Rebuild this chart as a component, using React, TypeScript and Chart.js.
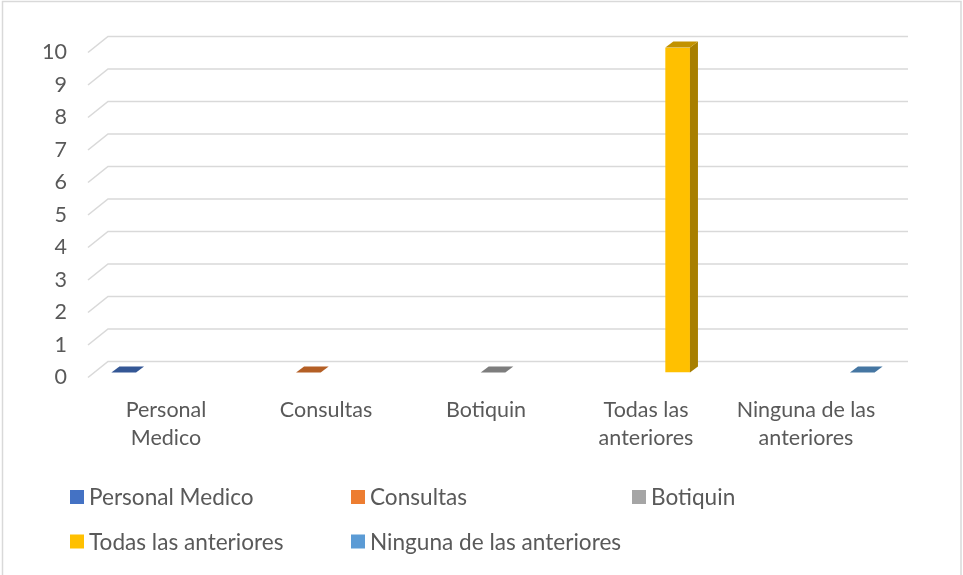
import { useEffect, useRef } from "react";
import { Chart, registerables } from "chart.js";

Chart.register(...registerables);

const seriesNames = [
  "Personal Medico",
  "Consultas",
  "Botiquin",
  "Todas las anteriores",
  "Ninguna de las anteriores",
];
const categoryLabels: (string | string[])[] = [
  ["Personal", "Medico"],
  "Consultas",
  "Botiquin",
  ["Todas las", "anteriores"],
  ["Ninguna de las", "anteriores"],
];
const seriesValues = [0, 0, 0, 10, 0];
const seriesColors = ["#4472C4", "#ED7D31", "#A5A5A5", "#FFC000", "#5B9BD5"];
const yMin = 0;
const yMax = 10;
const yStep = 1;

const FONT = "Lato, 'Open Sans', sans-serif";
const LEGEND_FONT_SIZE = 22.6;
const AXIS_FONT_SIZE = 21.5;
const TEXT_COLOR = "#595959";
const GRID_COLOR = "#d9d9d9";
// pseudo-3D geometry
const WALL_DX = 22;
const WALL_DY = 16;
const BAR_DX = 7;
const BAR_DY = 5;
const DEPTH_DX = 8;
const DEPTH_DY = 6;

function shade(hex: string, f: number): string {
  const n = parseInt(hex.slice(1), 16);
  const r = Math.round(((n >> 16) & 255) * f);
  const g = Math.round(((n >> 8) & 255) * f);
  const b = Math.round((n & 255) * f);
  return `rgb(${r},${g},${b})`;
}

const framePlugin = {
  id: "frame",
  beforeDraw(chart: any) {
    const ctx = chart.ctx;
    ctx.save();
    ctx.fillStyle = "#ffffff";
    ctx.fillRect(0, 0, chart.width, chart.height);
    ctx.strokeStyle = GRID_COLOR;
    ctx.lineWidth = 1.5;
    ctx.strokeRect(2.5, 1.5, chart.width - 4.5, chart.height + 10);
    ctx.restore();
  },
};

const depthPlugin = {
  id: "depth3d",
  beforeDatasetsDraw(chart: any) {
    const ctx = chart.ctx;
    const y = chart.scales.y;
    const { left, right } = chart.chartArea;
    ctx.save();
    ctx.strokeStyle = GRID_COLOR;
    ctx.lineWidth = 1.6;
    for (const t of y.ticks) {
      const py = y.getPixelForValue(t.value);
      ctx.beginPath();
      ctx.moveTo(left + 2, py);
      ctx.lineTo(left + WALL_DX, py - WALL_DY);
      ctx.lineTo(right + WALL_DX, py - WALL_DY);
      ctx.stroke();
    }
    ctx.restore();
    ctx.save();
    ctx.translate(BAR_DX, -BAR_DY);
  },
  afterDatasetsDraw(chart: any) {
    const ctx = chart.ctx;
    chart.data.datasets.forEach((ds: any, di: number) => {
      const meta = chart.getDatasetMeta(di);
      const color = seriesColors[di];
      meta.data.forEach((el: any, i: number) => {
        if (ds.data[i] == null) return;
        const { x, y, base, width } = el.getProps(["x", "y", "base", "width"], true);
        const l = x - width / 2;
        const r = x + width / 2;
        if (base - y > 0.5) {
          ctx.fillStyle = shade(color, 0.66);
          ctx.beginPath();
          ctx.moveTo(r, y);
          ctx.lineTo(r + DEPTH_DX, y - DEPTH_DY);
          ctx.lineTo(r + DEPTH_DX, base - DEPTH_DY);
          ctx.lineTo(r, base);
          ctx.closePath();
          ctx.fill();
        }
        ctx.fillStyle = shade(color, 0.76);
        ctx.beginPath();
        ctx.moveTo(l, y);
        ctx.lineTo(l + DEPTH_DX, y - DEPTH_DY);
        ctx.lineTo(r + DEPTH_DX, y - DEPTH_DY);
        ctx.lineTo(r, y);
        ctx.closePath();
        ctx.fill();
      });
    });
    ctx.restore();
  },
};

const legendPlugin = {
  id: "gridLegend",
  afterDraw(chart: any) {
    const ctx = chart.ctx;
    ctx.save();
    ctx.font = `${LEGEND_FONT_SIZE}px ${FONT}`;
    ctx.textBaseline = "middle";
    ctx.textAlign = "left";
    const cols = 3;
    const colW = 281;
    const x0 = 70;
    const rowsY = [497, 541.5];
    chart.data.datasets.forEach((ds: any, i: number) => {
      const c = i % cols;
      const r = Math.floor(i / cols);
      const bx = x0 + c * colW;
      const cy = rowsY[r];
      ctx.fillStyle = seriesColors[i];
      ctx.fillRect(bx, cy - 7, 14, 14);
      ctx.fillStyle = TEXT_COLOR;
      ctx.fillText(ds.label, bx + 19, cy + 1);
    });
    ctx.restore();
  },
};

export default function App() {
  const ref = useRef<HTMLCanvasElement | null>(null);

  useEffect(() => {
    document.body.style.margin = "0";
    const canvas = ref.current;
    if (!canvas) return;
    const datasets = seriesNames.map((name, i) => ({
      label: name,
      data: categoryLabels.map((_, j) => (j === i ? seriesValues[i] : null)),
      backgroundColor: seriesColors[i],
      borderWidth: 0,
      categoryPercentage: 0.77,
      barPercentage: 1.0,
    }));
    const chart = new Chart(canvas, {
      type: "bar",
      data: { labels: categoryLabels as any, datasets },
      options: {
        animation: false,
        responsive: false,
        devicePixelRatio: 1,
        layout: { padding: { left: 0, right: 77, top: 52.5, bottom: 0 } },
        plugins: {
          legend: { display: false },
          tooltip: { enabled: false },
        },
        scales: {
          x: {
            grid: { display: false, drawTicks: false },
            border: { display: false },
            ticks: {
              color: TEXT_COLOR,
              font: { family: FONT, size: AXIS_FONT_SIZE, lineHeight: 1.3 },
              padding: 18.5,
              maxRotation: 0,
              autoSkip: false,
            },
            afterFit(scale: any) {
              scale.height = 575 - 377.5;
            },
          },
          y: {
            min: yMin,
            max: yMax,
            grid: { display: false, drawTicks: false },
            border: { display: false },
            ticks: {
              stepSize: yStep,
              color: TEXT_COLOR,
              font: { family: FONT, size: AXIS_FONT_SIZE },
              padding: 19,
            },
            afterFit(scale: any) {
              scale.width = 86;
            },
          },
        },
      } as any,
      plugins: [framePlugin, depthPlugin, legendPlugin],
    });
    return () => chart.destroy();
  }, []);

  return <canvas ref={ref} width={963} height={575} style={{ display: "block" }} />;
}
